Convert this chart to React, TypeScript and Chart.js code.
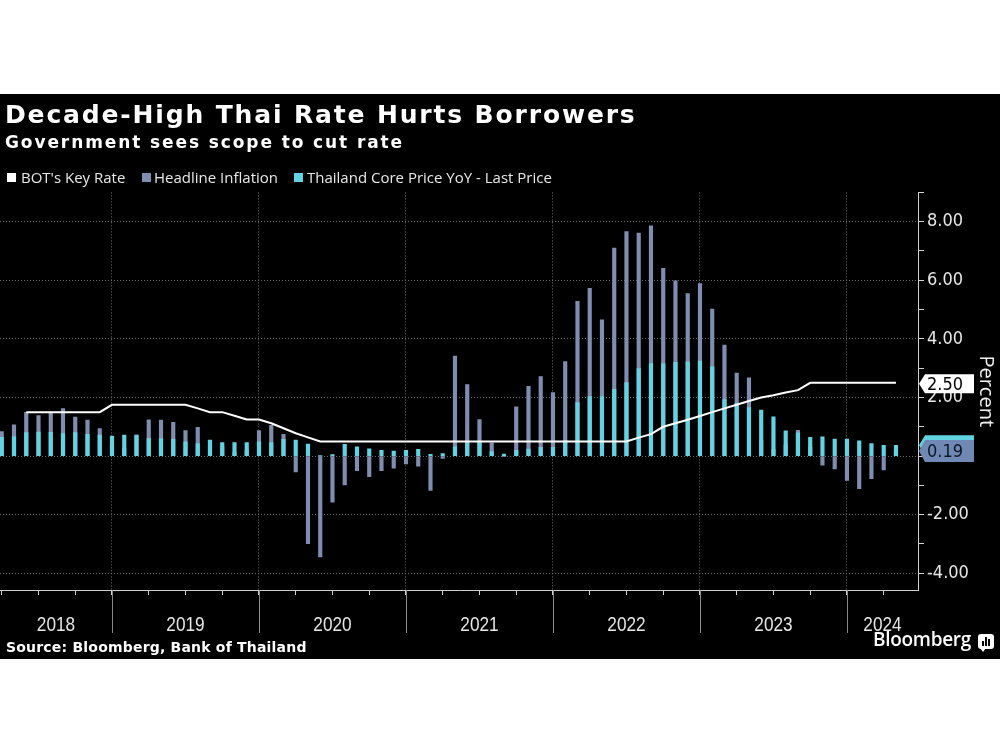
import React, { useEffect, useRef } from 'react';
import { Chart, registerables } from 'chart.js';

Chart.register(...registerables);

// ---------- data (monthly, plotted at month end) ----------
const MONTHS = [
  '2018-03', '2018-04', '2018-05', '2018-06', '2018-07', '2018-08', '2018-09', '2018-10', '2018-11', '2018-12',
  '2019-01', '2019-02', '2019-03', '2019-04', '2019-05', '2019-06', '2019-07', '2019-08', '2019-09', '2019-10', '2019-11', '2019-12',
  '2020-01', '2020-02', '2020-03', '2020-04', '2020-05', '2020-06', '2020-07', '2020-08', '2020-09', '2020-10', '2020-11', '2020-12',
  '2021-01', '2021-02', '2021-03', '2021-04', '2021-05', '2021-06', '2021-07', '2021-08', '2021-09', '2021-10', '2021-11', '2021-12',
  '2022-01', '2022-02', '2022-03', '2022-04', '2022-05', '2022-06', '2022-07', '2022-08', '2022-09', '2022-10', '2022-11', '2022-12',
  '2023-01', '2023-02', '2023-03', '2023-04', '2023-05', '2023-06', '2023-07', '2023-08', '2023-09', '2023-10', '2023-11', '2023-12',
  '2024-01', '2024-02', '2024-03', '2024-04',
];

const HEADLINE = [
  0.84, 1.07, 1.49, 1.38, 1.46, 1.62, 1.33, 1.23, 0.94, 0.36,
  0.27, 0.73, 1.24, 1.23, 1.15, 0.87, 0.98, 0.52, 0.32, 0.11, 0.21, 0.87,
  1.05, 0.74, -0.54, -2.99, -3.44, -1.57, -0.98, -0.50, -0.70, -0.50, -0.41, -0.27,
  -0.34, -1.17, -0.08, 3.41, 2.44, 1.25, 0.45, -0.02, 1.68, 2.38, 2.71, 2.17,
  3.23, 5.28, 5.73, 4.65, 7.10, 7.66, 7.61, 7.86, 6.41, 5.98, 5.55, 5.89,
  5.02, 3.79, 2.83, 2.67, 0.53, 0.23, 0.38, 0.88, 0.30, -0.31, -0.44, -0.83,
  -1.11, -0.77, -0.47, 0.19,
];

const CORE = [
  0.64, 0.66, 0.80, 0.82, 0.81, 0.77, 0.80, 0.74, 0.72, 0.68,
  0.72, 0.70, 0.60, 0.60, 0.57, 0.49, 0.43, 0.55, 0.46, 0.46, 0.46, 0.49,
  0.46, 0.57, 0.55, 0.41, 0.01, 0.05, 0.40, 0.32, 0.25, 0.20, 0.17, 0.20,
  0.23, 0.06, 0.09, 0.32, 0.46, 0.46, 0.15, 0.07, 0.20, 0.24, 0.30, 0.30,
  0.52, 1.83, 2.03, 2.03, 2.28, 2.51, 2.99, 3.16, 3.16, 3.20, 3.22, 3.24,
  3.05, 1.93, 1.80, 1.66, 1.57, 1.34, 0.86, 0.79, 0.64, 0.66, 0.58, 0.58,
  0.52, 0.43, 0.37, 0.37,
];

const KEY_RATE = [
  null, null, 1.5, 1.5, 1.5, 1.5, 1.5, 1.5, 1.5, 1.75,
  1.75, 1.75, 1.75, 1.75, 1.75, 1.75, 1.63, 1.5, 1.5, 1.38, 1.25, 1.25,
  1.12, 0.95, 0.78, 0.64, 0.5, 0.5, 0.5, 0.5, 0.5, 0.5, 0.5, 0.5,
  0.5, 0.5, 0.5, 0.5, 0.5, 0.5, 0.5, 0.5, 0.5, 0.5, 0.5, 0.5,
  0.5, 0.5, 0.5, 0.5, 0.5, 0.5, 0.63, 0.75, 1.0, 1.12, 1.24, 1.37,
  1.5, 1.63, 1.75, 1.88, 2.0, 2.08, 2.17, 2.25, 2.5, 2.5, 2.5, 2.5,
  2.5, 2.5, 2.5, 2.5,
];

const YEAR_LABELS = ['2018', '2019', '2020', '2021', '2022', '2023', '2024'];
const LEGEND_LABELS = ["BOT's Key Rate", 'Headline Inflation', 'Thailand Core Price YoY - Last Price'];

const Y_MIN = -4.57;
const Y_MAX = 9;
const X_MIN = 2.857;
const X_MAX = 77.8;

// ---------- styles ----------
const WHITE = '#ffffff';
const SLATE = '#7f8db0';
const SLATE_LABEL = '#6f88b4';
const CYAN = '#62d3e3';
const GRID = '#6e6e6e';
const AXIS = '#d0d0d0';
const NARROW = "'Liberation Sans Narrow', 'DejaVu Sans Condensed', sans-serif";
const LIB = "'Liberation Sans', Arial, sans-serif";
const BOLD = "'DejaVu Sans', sans-serif";
const SANS = "'Open Sans', 'Noto Sans', sans-serif";

function monthIndex(m: string): number {
  return (Number(m.slice(0, 4)) - 2018) * 12 + Number(m.slice(5, 7));
}

const toXY = (arr: (number | null)[]) =>
  MONTHS.map((m, i) => ({ x: monthIndex(m), y: arr[i] })).filter((p) => p.y !== null);

const yearAxisPlugin = {
  id: 'yearAxis',
  afterDraw(chart: any) {
    const { ctx, chartArea, scales } = chart;
    const xs = scales.x;
    ctx.save();
    ctx.font = `21px ${LIB}`;
    ctx.fillStyle = '#e6e6e6';
    ctx.textAlign = 'center';
    ctx.textBaseline = 'alphabetic';
    YEAR_LABELS.forEach((yl) => {
      const start = (Number(yl) - 2018) * 12;
      const end = start + 12;
      const a = Math.max(start, xs.min);
      const b = Math.min(end, xs.max);
      const pa = xs.getPixelForValue(a);
      const pb = xs.getPixelForValue(b);
      if (start > xs.min) {
        ctx.strokeStyle = '#8a8a8a';
        ctx.lineWidth = 1;
        ctx.beginPath();
        ctx.moveTo(Math.round(pa) + 0.5, chartArea.bottom);
        ctx.lineTo(Math.round(pa) + 0.5, chartArea.bottom + 43);
        ctx.stroke();
      }
      ctx.save();
      ctx.translate((pa + pb) / 2, chartArea.bottom + 40.5);
      ctx.scale(0.82, 1);
      ctx.fillText(yl, 0, 0);
      ctx.restore();
    });
    ctx.restore();
  },
};

const lastValuePlugin = {
  id: 'lastValues',
  afterDraw(chart: any) {
    const { ctx, chartArea, scales } = chart;
    const ys = scales.y;
    const items = [
      { v: CORE[CORE.length - 1], bg: CYAN, fg: '', h: 20, dy: 0 },
      { v: HEADLINE[HEADLINE.length - 1], bg: SLATE_LABEL, fg: '#0c1626', h: 22, dy: 0.5 },
      { v: KEY_RATE[KEY_RATE.length - 1] as number, bg: WHITE, fg: '#000000', h: 19, dy: 1 },
    ];
    ctx.save();
    ctx.font = `18px ${NARROW}`;
    ctx.textAlign = 'left';
    ctx.textBaseline = 'middle';
    items.forEach((it) => {
      const yc = ys.getPixelForValue(it.v) + it.dy;
      const h = it.h;
      const x0 = chartArea.right + 1;
      const x1 = x0 + 6;
      const x2 = 974;
      ctx.fillStyle = it.bg;
      ctx.beginPath();
      ctx.moveTo(x0, yc);
      ctx.lineTo(x1, yc - h / 2);
      ctx.lineTo(x2, yc - h / 2);
      ctx.lineTo(x2, yc + h / 2);
      ctx.lineTo(x1, yc + h / 2);
      ctx.closePath();
      ctx.fill();
      if (it.fg) {
        ctx.fillStyle = it.fg;
        ctx.fillText(it.v.toFixed(2), x0 + 8, yc + 1);
      }
    });
    ctx.restore();
  },
};

export default function App() {
  const ref = useRef<HTMLCanvasElement>(null);

  useEffect(() => {
    if (!ref.current) return;
    const chart = new Chart(ref.current, {
      type: 'bar',
      data: {
        datasets: [
          {
            type: 'line',
            label: LEGEND_LABELS[0],
            data: toXY(KEY_RATE),
            borderColor: WHITE,
            borderWidth: 2,
            pointRadius: 0,
            tension: 0,
            order: 0,
          } as any,
          {
            type: 'bar',
            label: LEGEND_LABELS[2],
            data: toXY(CORE),
            backgroundColor: CYAN,
            barThickness: 3.5,
            grouped: false,
            order: 1,
          },
          {
            type: 'bar',
            label: LEGEND_LABELS[1],
            data: toXY(HEADLINE),
            backgroundColor: SLATE,
            barThickness: 3.5,
            grouped: false,
            order: 2,
          },
        ],
      },
      options: {
        responsive: false,
        maintainAspectRatio: false,
        animation: false,
        events: [],
        layout: { padding: { top: 192.4, left: 0, right: 0, bottom: 0 } },
        plugins: { legend: { display: false }, tooltip: { enabled: false } },
        scales: {
          x: {
            type: 'linear',
            offset: false,
            min: X_MIN,
            max: X_MAX,
            afterFit: (s: any) => { s.height = 160; },
            ticks: { stepSize: 3, includeBounds: false, autoSkip: false, display: false, maxRotation: 0, minRotation: 0 },
            grid: {
              offset: false,
              color: (c: any) => (c.tick && Math.round(c.tick.value) % 12 === 0 ? GRID : 'rgba(0,0,0,0)'),
              tickColor: AXIS,
              tickLength: 5,
              lineWidth: 1,
            },
            border: { display: true, color: AXIS, width: 1, dash: [1, 2] },
          },
          y: {
            type: 'linear',
            position: 'right',
            min: Y_MIN,
            max: Y_MAX,
            afterFit: (s: any) => { s.width = 82; },
            ticks: {
              stepSize: 1,
              includeBounds: false,
              autoSkip: false,
              padding: 3,
              color: '#e6e6e6',
              font: { family: NARROW, size: 18 },
              callback: (v: any) => (Math.round(v) % 2 === 0 ? Number(v).toFixed(2) : ''),
            },
            grid: {
              color: (c: any) => (c.tick && Math.round(c.tick.value) % 2 === 0 ? GRID : 'rgba(0,0,0,0)'),
              tickColor: AXIS,
              tickLength: 6,
              lineWidth: 1,
            },
            border: { display: true, color: AXIS, width: 1, dash: [1, 2] },
            title: {
              display: true,
              text: 'Percent',
              color: '#eeeeee',
              font: { family: SANS, size: 20 },
              padding: { top: 2, bottom: 0 },
            },
          },
        },
      },
      plugins: [yearAxisPlugin, lastValuePlugin],
    } as any);
    return () => chart.destroy();
  }, []);

  const abs = (s: React.CSSProperties): React.CSSProperties => ({ position: 'absolute', whiteSpace: 'nowrap', ...s });
  const legendFont = `15px/15px ${SANS}`;

  return (
    <div style={{ position: 'absolute', left: 0, top: 0, width: 1000, height: 750, background: '#ffffff', overflow: 'hidden' }}>
      <div style={abs({ left: 0, top: 94, width: 1000, height: 565, background: '#000000' })} />
      <canvas ref={ref} width={1000} height={750} style={abs({ left: 0, top: 0, width: 1000, height: 750 })} />
      <div style={abs({ left: 5, top: 102, font: `bold 25px/25px ${BOLD}`, letterSpacing: '1.85px', color: '#ffffff' })}>
        Decade-High Thai Rate Hurts Borrowers
      </div>
      <div style={abs({ left: 5, top: 134, font: `bold 17px/17px ${BOLD}`, letterSpacing: '1.9px', color: '#ffffff' })}>
        Government sees scope to cut rate
      </div>
      <div style={abs({ left: 7, top: 173, width: 9, height: 9, background: WHITE })} />
      <div style={abs({ left: 21, top: 170, font: legendFont, color: '#e8e8e8' })}>{LEGEND_LABELS[0]}</div>
      <div style={abs({ left: 142, top: 173, width: 9, height: 9, background: SLATE })} />
      <div style={abs({ left: 154, top: 170, font: legendFont, color: '#e8e8e8' })}>{LEGEND_LABELS[1]}</div>
      <div style={abs({ left: 294, top: 173, width: 9, height: 9, background: CYAN })} />
      <div style={abs({ left: 307, top: 170, font: legendFont, color: '#e8e8e8' })}>{LEGEND_LABELS[2]}</div>
      <div style={abs({ left: 6, top: 640, font: `bold 14px/14px ${BOLD}`, letterSpacing: '0.2px', color: '#ffffff' })}>
        Source: Bloomberg, Bank of Thailand
      </div>
      <div style={abs({ left: 873, top: 630, font: `600 19px/19px ${SANS}`, letterSpacing: '-0.3px', color: '#ffffff' })}>
        Bloomberg
      </div>
      <div style={abs({ left: 978, top: 634, width: 16, height: 15, background: '#ffffff', borderRadius: 3 })}>
        <div style={abs({ left: 4, top: 7, width: 2, height: 5, background: '#000' })} />
        <div style={abs({ left: 7, top: 3, width: 2, height: 9, background: '#000' })} />
        <div style={abs({ left: 10, top: 5, width: 2, height: 7, background: '#000' })} />
      </div>
      <div style={abs({ left: 980, top: 648, width: 0, height: 0, borderLeft: '3px solid transparent', borderRight: '3px solid transparent', borderTop: '4px solid #ffffff' })} />
    </div>
  );
}
